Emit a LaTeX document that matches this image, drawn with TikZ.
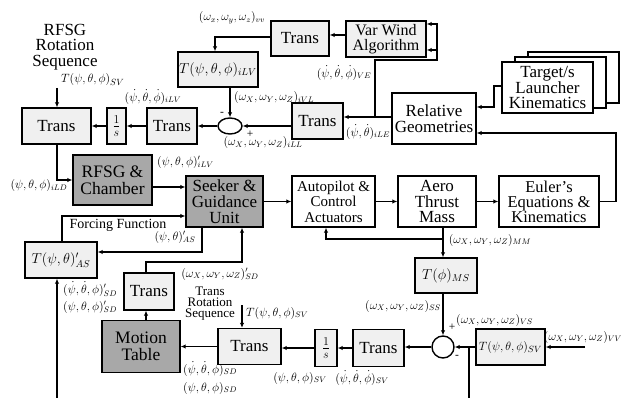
\documentclass[tikz,border=0pt]{standalone}
\usepackage{fontspec}
\setmainfont{Liberation Serif}
\usetikzlibrary{arrows.meta,shapes.geometric}
\definecolor{lightfill}{HTML}{F0F0F0}
\definecolor{darkfill}{HTML}{A8A8A8}
\begin{document}
\begin{tikzpicture}[x=1pt,y=-1pt,
  lb/.style={draw, line width=1.4pt, fill=lightfill, inner sep=0pt, align=center, font=\fontsize{17}{16}\selectfont},
  wb/.style={lb, fill=white},
  gb/.style={lb, fill=darkfill},
  bm/.style={font=\fontsize{14}{14}\selectfont},
  lab/.style={inner sep=0pt, font=\fontsize{11.5}{12}\selectfont},
  ln/.style={line width=1.4pt},
  ar/.style={ln, -{Latex[length=5pt,width=4.5pt]}}]
\useasboundingbox (0,0) rectangle (639,398);
% ---------- boxes ----------
\node[lb, minimum width=69pt, minimum height=36pt] (trA) at (56.5,126) {Trans};
\node[lb, minimum width=19pt, minimum height=36pt] (invA) at (116.5,126) {$\frac{1}{s}$};
\node[lb, minimum width=50pt, minimum height=36pt] (trB) at (172,126) {Trans};
\node[draw, ellipse, line width=1.4pt, fill=white, inner sep=0pt, minimum width=24pt, minimum height=16pt] (sumA) at (230,126) {};
\node[lb, bm, minimum width=80pt, minimum height=35pt] (tiLV) at (218,69.5) {$T(\psi,\theta,\phi)_{iLV}$};
\node[lb, minimum width=58pt, minimum height=35pt] (trC) at (300,38.5) {Trans};
\node[lb, minimum width=80pt, minimum height=36pt, font=\fontsize{16}{15}\selectfont] (varwind) at (386,39) {Var Wind\\Algorithm};
\node[lb, minimum width=51pt, minimum height=36pt] (trD) at (317.5,121) {Trans};
\node[wb, minimum width=84pt, minimum height=51pt] (relgeo) at (434,118.5) {Relative\\Geometries};
\node[wb, minimum width=91pt, minimum height=51pt] (tgc) at (573.5,77.5) {};
\node[wb, minimum width=91pt, minimum height=51pt] (tgb) at (560.5,82.5) {};
\node[wb, minimum width=91pt, minimum height=51pt, font=\fontsize{17}{15}\selectfont] (tg) at (547.5,87.5) {Target/s\\Launcher\\Kinematics};
\node[wb, minimum width=100pt, minimum height=51pt, font=\fontsize{16.5}{15}\selectfont] (euler) at (549,201.5) {Euler's\\Equations \&\\Kinematics};
\node[wb, minimum width=78pt, minimum height=51pt, font=\fontsize{17}{15.5}\selectfont] (aero) at (437,201.5) {Aero\\Thrust\\Mass};
\node[wb, minimum width=83pt, minimum height=51pt, font=\fontsize{15}{15.5}\selectfont] (autopilot) at (333.5,201.5) {Autopilot \&\\Control\\Actuators};
\node[gb, minimum width=77pt, minimum height=51pt, font=\fontsize{17}{16}\selectfont] (seeker) at (224.5,201.5) {Seeker \&\\Guidance\\Unit};
\node[gb, minimum width=79pt, minimum height=50pt, font=\fontsize{17.5}{17}\selectfont] (rfsg) at (112.5,180) {RFSG \&\\Chamber};
\node[lb, bm, minimum width=72pt, minimum height=36pt] (tAS) at (61,260) {$T(\psi,\theta)'_{AS}$};
\node[lb, minimum width=50pt, minimum height=37pt] (trE) at (149,291.5) {Trans};
\node[gb, minimum width=78pt, minimum height=52pt, font=\fontsize{17.5}{17}\selectfont] (motion) at (141,346.5) {Motion\\Table};
\node[lb, minimum width=63pt, minimum height=36pt] (trF) at (249.5,346.5) {Trans};
\node[lb, minimum width=22pt, minimum height=37pt] (invB) at (326,348) {$\frac{1}{s}$};
\node[lb, minimum width=51pt, minimum height=37pt] (trG) at (378.5,348) {Trans};
\node[draw, circle, line width=1.4pt, fill=white, inner sep=0pt, minimum size=22pt] (sumB) at (443,347) {};
\node[lb, bm, minimum width=62pt, minimum height=35pt] (tMS) at (446,275.5) {$T(\phi)_{MS}$};
\node[lb, bm, minimum width=69pt, minimum height=36pt, font=\fontsize{13}{13}\selectfont] (tSV) at (510.5,347) {$T(\psi,\theta,\phi)_{SV}$};
% ---------- labels ----------
\node[lab, align=center, font=\fontsize{17}{15.5}\selectfont] (rfsgseq) at (65,47) {RFSG\\Rotation\\Sequence};
\node[lab, anchor=west, font=\fontsize{12.5}{13}\selectfont] (lTsvA) at (61,80) {$T(\psi,\theta,\phi)_{SV}$};
\node[lab] (lA1) at (153,97) {$(\dot\psi,\dot\theta,\dot\phi)_{iLV}$};
\node[lab] (lA2) at (232,18) {$(\omega_x,\omega_y,\omega_z)_{vv}$};
\node[lab] (lA3) at (344,73) {$(\dot\psi,\dot\theta,\dot\phi)_{VE}$};
\node[lab, anchor=west] (lA4) at (234,98) {$(\omega_X,\omega_Y,\omega_Z)_{iVL}$};
\node[lab] (mA) at (222,114) {-};
\node[lab] (pA) at (250,134) {+};
\node[lab] (lA5) at (263,143) {$(\omega_X,\omega_Y,\omega_Z)_{iLL}$};
\node[lab] (lA6) at (368,132) {$(\dot\psi,\dot\theta)_{iLE}$};
\node[lab, anchor=west] (lA7) at (157,162) {$(\psi,\theta,\phi)'_{iLV}$};
\node[lab] (lA8) at (39,186) {$(\psi,\theta,\phi)_{iLD}$};
\node[lab, font=\fontsize{14}{14}\selectfont] (lA9) at (118,225) {Forcing Function};
\node[lab] (lA10) at (175,237) {$(\psi,\theta)'_{AS}$};
\node[lab, anchor=west] (lA11) at (63,289) {$(\dot\psi,\dot\theta,\phi)'_{SD}$};
\node[lab, anchor=west] (lA12) at (63,307) {$(\psi,\theta,\phi)'_{SD}$};
\node[lab] (lA13) at (220,274) {$(\omega_X,\omega_Y,\omega_Z)'_{SD}$};
\node[lab, align=center, font=\fontsize{13}{11}\selectfont] (lA14) at (210,304) {Trans\\Rotation\\Sequence};
\node[lab, anchor=west] (lA15) at (246,313) {$T(\psi,\theta,\phi)_{SV}$};
\node[lab, anchor=west] (lA16) at (183,369) {$(\dot\psi,\dot\theta,\phi)_{SD}$};
\node[lab, anchor=west] (lA17) at (183,388) {$(\psi,\theta,\phi)_{SD}$};
\node[lab] (lA18) at (300,378) {$(\psi,\theta,\phi)_{SV}$};
\node[lab] (lA19) at (362,378) {$(\dot\psi,\dot\theta,\dot\phi)_{SV}$};
\node[lab] (lA20) at (403,306) {$(\omega_X,\omega_Y,\omega_Z)_{SS}$};
\node[lab] (lA21) at (490,240) {$(\omega_X,\omega_Y,\omega_Z)_{MM}$};
\node[lab] (pB) at (452,327) {+};
\node[lab, anchor=west] (lA22) at (456,320) {$(\omega_X,\omega_Y,\omega_Z)_{VS}$};
\node[lab] (mB) at (457,357) {-};
\node[lab] (lA23) at (583,337) {$(\omega_X,\omega_Y,\omega_Z)_{VV}$};
% ---------- coordinates ----------
\coordinate (tsvAin) at (57,88);
\coordinate (c1) at (215,37);
\coordinate (vw) at (346,35);
\coordinate (rg1) at (392,117);
\coordinate (br1) at (375,117);
\coordinate (vwr) at (437,60);
\coordinate (vwa) at (437,24);
\coordinate (vwb) at (437,50);
\coordinate (tg1) at (494,86);
\coordinate (tg2) at (494,107);
\coordinate (eu2) at (616,133);
\coordinate (am) at (443,239);
\coordinate (ap) at (326,239);
\coordinate (jb) at (469,347);
\coordinate (jbb) at (469,398);
\coordinate (vvin) at (585,347);
\coordinate (tsvB) at (242,305);
\coordinate (me) at (146,262);
\coordinate (se) at (242,262);
\coordinate (sa) at (202,252);
\coordinate (ff) at (62,216);
\coordinate (bi) at (57,398);
\coordinate (rf) at (57,180);
\coordinate (rs) at (152,187);
% ---------- connectors ----------
\draw[ar] (tsvAin) -- (tsvAin |- trA.north);
\draw[ar] (sumA.west) -- (trB.east);
\draw[ar] (trB.west) -- (invA.east);
\draw[ar] (invA.west) -- (trA.east);
\draw[ar] (trD.west |- sumA) -- (sumA.east);
\draw[ar] (sumA |- tiLV.south) -- (sumA.north);
\draw[ar] (trC.west |- c1) -- (c1) -- (c1 |- tiLV.north);
\draw[ar] (varwind.west |- vw) -- (trC.east |- vw);
\draw[ar] (relgeo.west |- rg1) -- (trD.east |- rg1);
\draw[ar] (br1) |- (vwr) -- (vwa) -- (varwind.east |- vwa);
\draw[ar] (vwb) -- (varwind.east |- vwb);
\draw[ar] (tg.west |- tg1) -- (tg1) -- (tg2) -- (relgeo.east |- tg2);
\draw[ar] (euler.east) -| (eu2) -- (relgeo.east |- eu2);
\draw[ar] (seeker.east) -- (autopilot.west);
\draw[ar] (autopilot.east) -- (aero.west);
\draw[ar] (aero.east) -- (euler.west);
\draw[ar] (am |- aero.south) -- (am |- tMS.north);
\draw[ar] (am) -- (ap) -- (ap |- autopilot.south);
\draw[ar] (am |- tMS.south) -- (sumB.north);
\draw[ar] (tSV.west) -- (sumB.east);
\draw[ln] (jb) -- (jbb);
\draw[ar] (vvin) -- (tSV.east);
\draw[ar] (sumB.west) -- (trG.east |- sumB);
\draw[ar] (trG.west) -- (invB.east);
\draw[ar] (invB.west) -- (trF.east |- invB.west);
\draw[ar] (trF.west) -- (motion.east |- trF.west);
\draw[ar] (tsvB) -- (tsvB |- trF.north);
\draw[ar] (me |- motion.north) -- (me |- trE.south);
\draw[ar] (me |- trE.north) -- (me) -- (se) -- (se |- seeker.south);
\draw[ar] (sa |- seeker.south) -- (sa) -- (tAS.east |- sa);
\draw[ar] (ff |- tAS.north) -- (ff) -- (seeker.west |- ff);
\draw[ar] (bi) -- (bi |- tAS.south);
\draw[ar] (rf |- trA.south) -- (rf) -- (rfsg.west |- rf);
\draw[ar] (rfsg.east |- rs) -- (seeker.west |- rs);
\end{tikzpicture}
\end{document}
